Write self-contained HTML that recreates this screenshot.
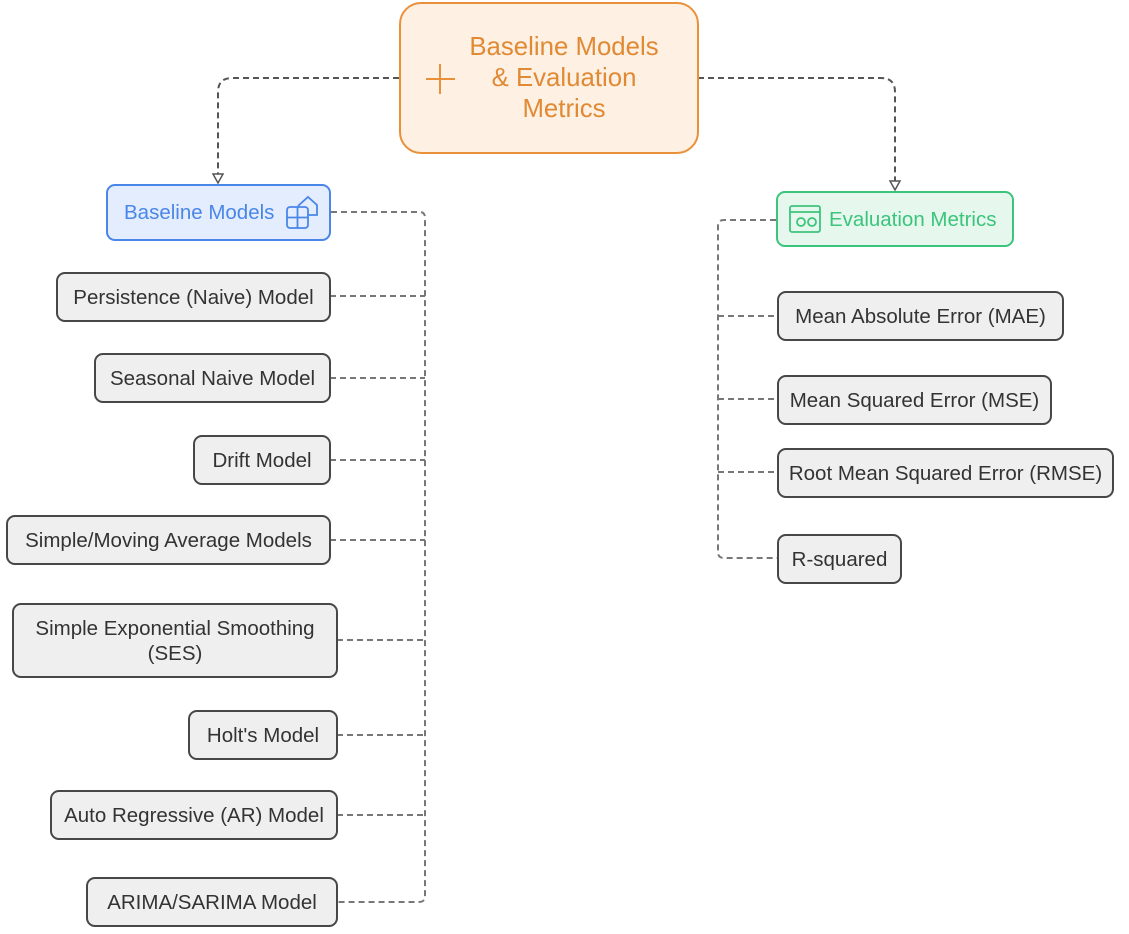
<!DOCTYPE html>
<html><head><meta charset="utf-8"><style>
html,body{margin:0;padding:0;background:#fff;}
body{width:1129px;height:934px;position:relative;overflow:hidden;font-family:"Liberation Sans",sans-serif;}
.n{position:absolute;box-sizing:border-box;border:2px solid #474747;background:#efefef;border-radius:9px;color:#333;font-size:20.5px;display:flex;align-items:center;justify-content:center;text-align:center;line-height:25px;white-space:nowrap;}
svg{position:absolute;left:0;top:0;}
</style></head><body>
<svg width="1129" height="934">
<g fill="none" stroke="#777" stroke-width="2" stroke-dasharray="6,4">
<path d="M399 78 H232 Q218 78 218 92 V180" stroke="#555"/>
<path d="M698 78 H881 Q895 78 895 92 V187" stroke="#555"/>
<path d="M331 212 H420 Q425 212 425 218 V896 Q425 902 419 902 H337"/>
<path d="M330 296 H425 M330 378 H425 M330 460 H425 M330 540 H425 M337 640 H425 M337 735 H425 M337 815 H425"/>
<path d="M776 220 H724 Q718 220 718 226 V552 Q718 558 724 558 H777"/>
<path d="M718 316 H777 M718 399 H777 M718 472 H777"/>
</g>
<path d="M213 174 L223 174 L218 183 Z" fill="#fff" stroke="#555" stroke-width="1.5"/>
<path d="M890 181 L900 181 L895 190 Z" fill="#fff" stroke="#555" stroke-width="1.5"/>
</svg>
<div style="position:absolute;left:399px;top:2px;width:300px;height:152px;box-sizing:border-box;border:2px solid #e8913a;background:#fef0e2;border-radius:22px;"></div>
<svg width="1129" height="934"><path d="M426 79 H455 M440 64 V94" stroke="#e8913a" stroke-width="2"/></svg>
<div style="position:absolute;left:444px;top:32px;width:240px;text-align:center;color:#e08a35;font-size:25.8px;line-height:31px;">Baseline Models<br>&amp; Evaluation<br>Metrics</div>
<div class="n" style="left:106px;top:184px;width:225px;height:57px;background:#e3edfd;border-color:#4a86e8;color:#4a86e8;justify-content:flex-start;padding-left:16px;">Baseline Models</div>
<svg width="1129" height="934"><g fill="none" stroke="#4a86e8" stroke-width="1.8"><rect x="287" y="207" width="21" height="21" rx="3"/><path d="M297.5 207V228M287 217.5H308M298 206 L308 197 L317 205 V215 H308"/></g></svg>
<div class="n" style="left:776px;top:191px;width:238px;height:56px;background:#e6f8ee;border-color:#3cc47c;color:#3cc47c;justify-content:flex-start;padding-left:51px;">Evaluation Metrics</div>
<svg width="1129" height="934"><g fill="none" stroke="#3cc47c" stroke-width="1.8"><rect x="790" y="206" width="30" height="26" rx="2"/><path d="M790 212H820"/><circle cx="801" cy="222" r="4"/><circle cx="812" cy="222" r="4"/></g></svg>
<div class="n" style="left:56px;top:272px;width:275px;height:50px;">Persistence (Naive) Model</div>
<div class="n" style="left:94px;top:353px;width:237px;height:50px;">Seasonal Naive Model</div>
<div class="n" style="left:193px;top:435px;width:138px;height:50px;">Drift Model</div>
<div class="n" style="left:6px;top:515px;width:325px;height:50px;">Simple/Moving Average Models</div>
<div class="n" style="left:12px;top:603px;width:326px;height:75px;">Simple Exponential Smoothing<br>(SES)</div>
<div class="n" style="left:188px;top:710px;width:150px;height:50px;">Holt's Model</div>
<div class="n" style="left:50px;top:790px;width:288px;height:50px;">Auto Regressive (AR) Model</div>
<div class="n" style="left:86px;top:877px;width:252px;height:50px;">ARIMA/SARIMA Model</div>
<div class="n" style="left:777px;top:291px;width:287px;height:50px;">Mean Absolute Error (MAE)</div>
<div class="n" style="left:777px;top:375px;width:275px;height:50px;">Mean Squared Error (MSE)</div>
<div class="n" style="left:777px;top:448px;width:337px;height:50px;">Root Mean Squared Error (RMSE)</div>
<div class="n" style="left:777px;top:534px;width:125px;height:50px;">R-squared</div>
</body></html>
